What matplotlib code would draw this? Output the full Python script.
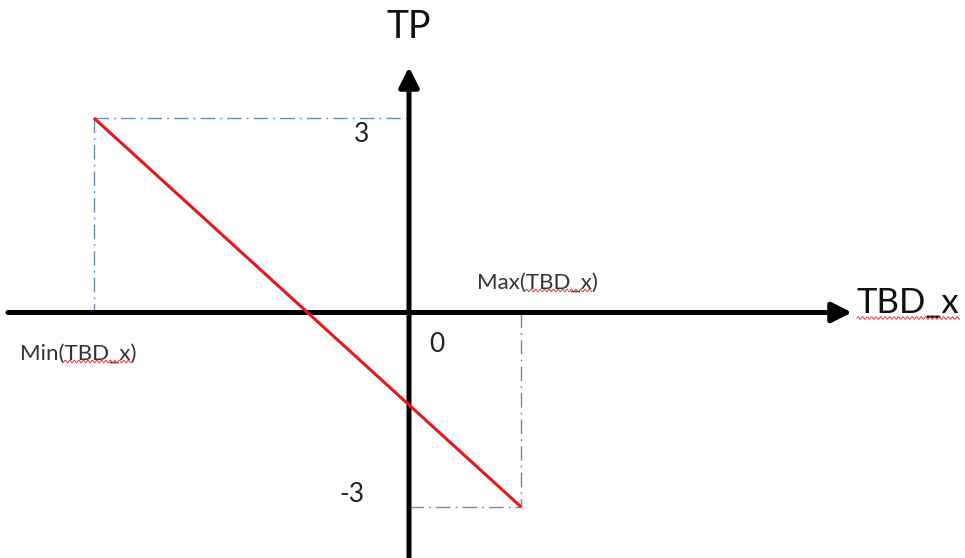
import matplotlib
matplotlib.use("Agg")
import matplotlib.pyplot as plt
import numpy as np
from matplotlib.patches import FancyArrowPatch
from matplotlib.lines import Line2D
from matplotlib.transforms import IdentityTransform

# TP goes linearly from +3 at Min(TBD_x) down to -3 at Max(TBD_x)
tbd_x = [-4.86, 1.73]
tp = [3, -3]
tick_labels = ["3", "-3", "0"]

FONT = ["Lato", "DejaVu Sans"]
AXIS_COLOR = "black"
GUIDE_COLOR = "#6b8db3"
LINE_COLOR = "#e3191c"

fig = plt.figure(figsize=(9.65, 5.58), dpi=100)
ax = fig.add_axes([0, 0, 1, 1])
ax.set_axis_off()

unit = 64.83  # pixels per data unit
x0_px, y0_px = 409, 312.5
ax.set_xlim(-x0_px / unit, (965 - x0_px) / unit)
ax.set_ylim(-(558 - y0_px) / unit, y0_px / unit)

# axes with arrow heads
def axis_arrow(start, end):
    arr = FancyArrowPatch(start, end, arrowstyle="-|>,head_length=12,head_width=6",
                          mutation_scale=1, lw=3.6, color=AXIS_COLOR,
                          shrinkA=0, shrinkB=0, zorder=3)
    ax.add_patch(arr)

xlo, xhi = ax.get_xlim()
ylo, yhi = ax.get_ylim()
axis_arrow((xlo + 8 / unit, 0), (xhi - (965 - 852) / unit, 0))
axis_arrow((0, ylo), (0, yhi - 67 / unit))

# dash-dot guides to the end points
guide = dict(color=GUIDE_COLOR, lw=1.0, linestyle=(0, (10.5, 3.6, 1.4, 3.6)), zorder=2)
ax.plot([tbd_x[0], 0], [tp[0], tp[0]], **guide)
ax.plot([tbd_x[0], tbd_x[0]], [tp[0], 0], **guide)
ax.plot([tbd_x[1], tbd_x[1]], [0, tp[1]], **guide)
ax.plot([0, tbd_x[1]], [tp[1], tp[1]], **guide)

ax.plot(tbd_x, tp, color=LINE_COLOR, lw=2.2, zorder=4, solid_capstyle="butt")

# labels
ax.text(0, yhi - 27 / unit, "TP", fontsize=27, family=FONT, color="#111111",
        ha="center", va="center")
ax.text(-47 / unit, tp[0] - 16 / unit, tick_labels[0], fontsize=19, family=FONT,
        color="#222222", ha="center", va="center")
ax.text(-57 / unit, tp[1] + 12 / unit, tick_labels[1], fontsize=19, family=FONT,
        color="#222222", ha="center", va="center")
ax.text(28 / unit, -32 / unit, tick_labels[2], fontsize=19, family=FONT,
        color="#222222", ha="center", va="center")

t_max = ax.text((537 - x0_px) / unit, (y0_px - 283) / unit, "Max(TBD_x)", fontsize=16,
                family=FONT, color="#333333", ha="center", va="center")
t_min = ax.text((78 - x0_px) / unit, (y0_px - 354) / unit, "Min(TBD_x)", fontsize=16,
                family=FONT, color="#333333", ha="center", va="center")
t_big = ax.text((857 - x0_px) / unit, (y0_px - 303) / unit, "TBD_x", fontsize=25,
                family=FONT, color="#111111", ha="left", va="center")

# spell-check squiggles under the "TBD_x" parts
renderer = fig.canvas.get_renderer()


def squiggle(text, prefix, word, pad=2.5):
    bb = text.get_window_extent(renderer)
    def width(s):
        if not s:
            return 0.0
        tmp = ax.text(0, 0, s, fontsize=text.get_fontsize(), family=FONT)
        w = tmp.get_window_extent(renderer).width
        tmp.remove()
        return w
    x_start = bb.x0 + width(prefix)
    x_end = x_start + width(word)
    xs = np.linspace(x_start, x_end, int((x_end - x_start) * 2) + 2)
    ys = bb.y0 + pad + 1.3 * np.sin((xs - x_start) * 2 * np.pi / 4.5)
    fig.add_artist(Line2D(xs, ys, transform=IdentityTransform(), color="#e23b3b",
                          lw=0.7, zorder=5))


squiggle(t_max, "Max(", "TBD_x")
squiggle(t_min, "Min(", "TBD_x")
squiggle(t_big, "", "TBD_x", pad=1)

fig.savefig("out.png", dpi=100)
